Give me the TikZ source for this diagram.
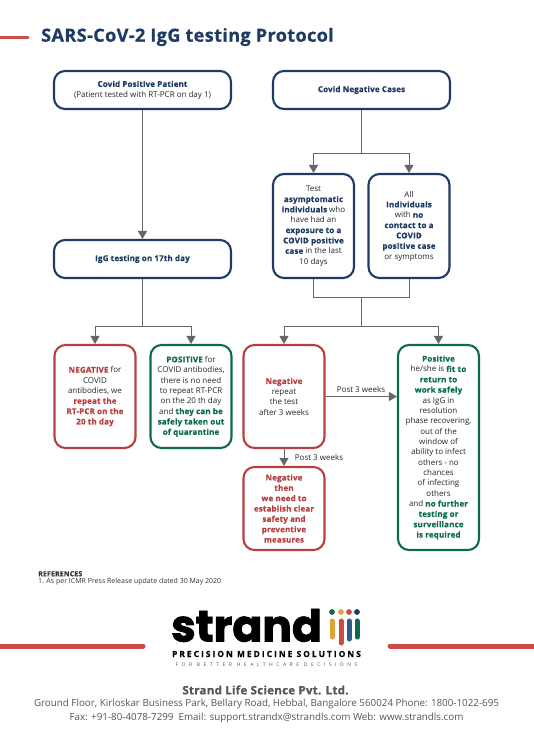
\documentclass[tikz,border=0pt]{standalone}
\usepackage{fontspec}
\setmainfont[BoldFeatures={FakeBold=0.7,LetterSpace=2}]{Open Sans}
\newfontfamily\logofont[BoldFeatures={FakeBold=2}]{Poppins}
\newfontfamily\spacedfont[LetterSpace=24,BoldFeatures={FakeBold=0.5}]{Open Sans}
\newfontfamily\widefont[LetterSpace=70]{Open Sans}
\usetikzlibrary{arrows.meta}

\definecolor{navyc}{HTML}{1F3B63}
\definecolor{redc}{HTML}{B5403F}
\definecolor{greenc}{HTML}{0C6B4C}
\definecolor{linec}{HTML}{666666}
\definecolor{barc}{HTML}{CC4B45}
\definecolor{orangec}{HTML}{E2A336}
\definecolor{greyc}{HTML}{555555}
\definecolor{bluec}{HTML}{2F5C8F}

\newcommand{\nv}[1]{\textbf{\textcolor{navyc}{#1}}}
\newcommand{\rd}[1]{\textbf{\textcolor{redc}{#1}}}
\newcommand{\gr}[1]{\textbf{\textcolor{greenc}{#1}}}

\tikzset{
  flowbox/.style={draw, rounded corners=11pt, line width=2.1pt, align=center, inner sep=0pt,
    font=\fontsize{8}{10.35}\selectfont, text=black!85},
  navybox/.style={flowbox, draw=navyc},
  redbox/.style={flowbox, draw=redc},
  greenbox/.style={flowbox, draw=greenc},
  wide/.style={minimum width=177pt, minimum height=38pt},
  narrow/.style={minimum width=81pt},
  plainline/.style={draw=linec, line width=1pt},
  arrowline/.style={plainline, -{Triangle[width=9pt,length=8pt]}},
  redbar/.style={draw=barc, line width=5pt, line cap=round},
  txt/.style={inner sep=0pt, align=center, font=\fontsize{8}{10.35}\selectfont, text=black!85},
}

\begin{document}
\begin{tikzpicture}[x=1pt,y=-1pt]

    \useasboundingbox (0,0) rectangle (533,754);

    % title
    \coordinate (topa) at (-3,38);
    \coordinate (topb) at (28,38);
    \draw[redbar, line width=3pt] (topa) -- (topb);
    \node[anchor=west, inner sep=0pt, text=navyc, font=\fontsize{18.1}{20}\selectfont\bfseries] (title) at (41,37) {SARS-CoV-2 IgG testing Protocol};

    % left column
    \node[navybox, wide] (pos) at (142.5,90) {\nv{Covid Positive Patient}\\(Patient tested with RT-PCR on day 1)};
    \node[navybox, wide] (igg) at (142.5,259) {\nv{IgG testing on 17th day}};
    \node[redbox, narrow, minimum height=103pt] (rnegative) at (95,396.5) {\rd{NEGATIVE} for\\COVID\\antibodies, we\\\rd{repeat the}\\\rd{RT-PCR on the}\\\rd{20 th day}};
    \node[greenbox, narrow, minimum height=103pt] (rpositive) at (191,396.5) {\gr{POSITIVE} for\\COVID antibodies,\\there is no need\\to repeat RT-PCR\\on the 20 th day\\and \gr{they can be}\\\gr{safely taken out}\\\gr{of quarantine}};

    % right column
    \node[navybox, wide] (neg) at (361.5,90) {\nv{Covid Negative Cases}};
    \node[navybox, narrow, minimum height=104pt] (test) at (313.5,226) {Test\\\nv{asymptomatic}\\\nv{individuals} who\\have had an\\\nv{exposure to a}\\\nv{COVID positive}\\\nv{case} in the last\\10 days};
    \node[navybox, narrow, minimum height=104pt] (all) at (409,226) {All\\\nv{Individuals}\\with \nv{no}\\\nv{contact to a}\\\nv{COVID}\\\nv{positive case}\\or symptoms};
    \node[redbox, narrow, minimum height=103pt] (repeat) at (284,396.5) {\rd{Negative}\\repeat\\the test\\after 3 weeks};
    \node[redbox, narrow, minimum height=83pt] (safety) at (284,508.5) {\rd{Negative}\\\rd{then}\\\rd{we need to}\\\rd{establish clear}\\\rd{safety and}\\\rd{preventive}\\\rd{measures}};
    \node[greenbox, narrow, minimum height=205pt] (fit) at (438.5,447.5) {\gr{Positive}\\he/she is \gr{fit to}\\\gr{return to}\\\gr{work safely}\\as IgG in\\resolution\\phase recovering,\\out of the\\window of\\ability to infect\\others - no\\chances\\of infecting\\others\\and \gr{no further}\\\gr{testing or}\\\gr{surveillance}\\\gr{is required}};

    % junctions
    \coordinate (jneg) at (361.5,154);
    \coordinate (jmid) at (361.5,297);
    \coordinate (jlow) at (361.5,326);
    \coordinate (jigg) at (142.5,326);

    \draw[arrowline] (pos) -- (igg);
    \draw[plainline] (igg) -- (jigg);
    \draw[arrowline] (jigg) -| (rnegative);
    \draw[arrowline] (jigg) -| (rpositive);

    \draw[plainline] (neg) -- (jneg);
    \draw[arrowline] (jneg) -| (test);
    \draw[arrowline] (jneg) -| (all);
    \draw[plainline] (test) |- (jmid);
    \draw[plainline] (all) |- (jmid);
    \draw[plainline] (jmid) -- (jlow);
    \draw[arrowline] (jlow) -| (repeat);
    \draw[arrowline] (jlow) -| (fit);

    \draw[arrowline] (repeat) -- (fit.west |- repeat);
    \draw[arrowline] (repeat) -- (safety);
    \node[txt] (postr) at (361,389) {Post 3 weeks};
    \node[txt] (postd) at (319,457) {Post 3 weeks};

    % references
    \node[anchor=north west, inner sep=0pt, align=left, font=\fontsize{7}{7.4}\selectfont, text=black!80] (refs) at (38,571) {\textbf{REFERENCES}\\1. As per ICMR Press Release update dated 30 May 2020};

    % logo
    \coordinate (barla) at (-3,646);
    \coordinate (barlb) at (143,646);
    \coordinate (barra) at (390,646);
    \coordinate (barrb) at (536,646);
    \draw[redbar] (barla) -- (barlb);
    \draw[redbar] (barra) -- (barrb);
    \node[anchor=base, inner sep=0pt, font=\fontsize{44}{44}\logofont\bfseries] (strand) at (246.5,641.5) {strand};
    \foreach \px/\cola/\colb/\yb in {332/greenc/orangec/637, 341/orangec/barc/643, 349/barc/bluec/639, 357/navyc/greenc/637}{
      \fill[\cola] (\px,612) circle (2.9);
      \draw[\colb, line width=5pt, line cap=round] (\px,621) -- (\px,\yb);
    }
    \node[inner sep=0pt, font=\fontsize{8.4}{10}\spacedfont\bfseries] (precision) at (266.5,654) {PRECISION MEDICINE SOLUTIONS};
    \node[inner sep=0pt, font=\fontsize{5}{6}\widefont, text=greyc] (better) at (266.5,664.5) {FOR BETTER HEALTHCARE DECISIONS};

    % address
    \node[inner sep=0pt, text=greyc, font=\fontsize{11.6}{12}\selectfont\bfseries] (company) at (265.5,690) {Strand Life Science Pvt. Ltd.};
    \node[inner sep=0pt, text=greyc, align=center, font=\fontsize{9.8}{13.6}\selectfont] (address) at (266.5,711) {Ground Floor, Kirloskar Business Park, Bellary Road, Hebbal, Bangalore 560024 Phone: 1800-1022-695\\Fax: +91-80-4078-7299\ \ Email: support.strandx@strandls.com Web: www.strandls.com};

\end{tikzpicture}
\end{document}
